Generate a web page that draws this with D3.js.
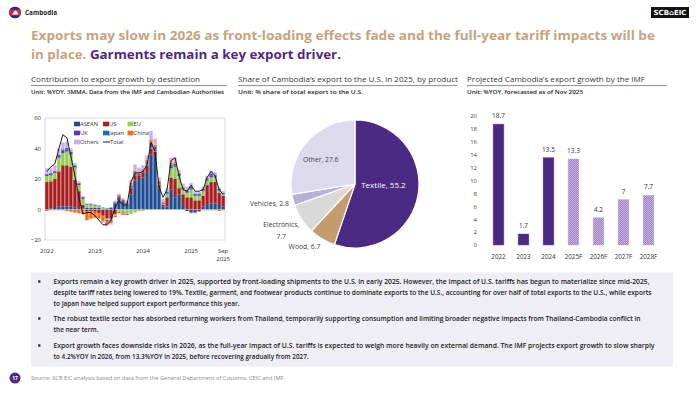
<!DOCTYPE html>
<html>
<head>
<meta charset="utf-8">
<script src="https://cdn.jsdelivr.net/npm/d3@7"></script>
<style>
  html, body { margin: 0; padding: 0; background: #fff; }
  svg { display: block; font-family: 'Open Sans', 'Noto Sans', sans-serif; }
</style>
</head>
<body>
<svg id="page" width="700" height="394"></svg>
<script>
// ---------- data ----------
// contribution to export growth, Jan 2022 - Sep 2025 (%YOY, 3MMA)
const seriesNames = ['ASEAN', 'US', 'EU', 'UK', 'Japan', 'China', 'Others'];
const asean = [-0.5, 0.5, 1, 2, 2, 2, 2, 1.5, 1, 0.5, 1, 1,
  1, 1, 0.5, 0.5, 1, 4, 6, 5, 3, 10, 19, 20,
  21, 24, 36, 35, 14, 2, 2, 13, 8, 10, 3, -1,
  -2, -2, -1, 2, 3, 4, 4, 3, 2];
const us = [18, 18, 19, 23, 27, 27, 26, 18, 11, 2.5, -1, -1,
  -1.5, -2.5, -4, -6, -6, -3, 2, 1, 1, 4, 3, 2,
  3, 5, 4, 3, 2, 1, 6, 8, 12, 4, 7, 8,
  8, 6, 6, 7, 13, 14, 14, 8, 7];
const eu = [4, 4, 4, 9, 8, 9, 8, 8, 4, 4, 2, 2,
  1.5, 1, 0.5, -1, -1, -1, -1.5, -2, -3, -3, -2, -1,
  -1, 0.5, 0.5, 0.5, 0.5, 0.5, 2, 6, 8, 8, 3, 3,
  5, 3, 3, 3, 3, 3, 3, 1, 1];
const uk = [1, 1, 1, 1, 1.5, 1.5, 1, 1, 1, 1, 0.3, 0.3,
  0.3, 0.2, -0.5, -0.5, -0.5, 0.3, 0.3, -0.5, -0.5, 0.5, 0.5, 0.5,
  0.5, 0.5, 1, 1, 0.5, 0.5, 0.5, 1, 1, 0.5, 0.5, 0.5,
  0.5, 0.5, 0.5, 0.5, 0.5, 1, 0.5, 0.5, 0.5];
const japan = [0.5, 0.5, 0.5, 1, 1, 1, 1, 0.5, 0.5, 0.3, 0.3, 0.3,
  0.3, 0.3, 0.3, 0.3, 0.3, 0.5, 1, 0.5, 0.5, 1, 1, 1,
  1, 1, 2, 1.5, 1, 0.5, 1, 1.5, 1, 1, 1, 1,
  1.5, 1, 1, 1, 1, 1.5, 1, 1, 0.5];
const china = [-0.5, -0.5, -0.5, -0.5, -0.5, -1, -1.5, -2, -2.5, -3, -6, -5,
  -4, -3.5, -3, -2, -1.5, -1, -1, -1, 0.5, 2, 2, 1,
  1, 1.5, 2, 1.5, 1, 0.5, 0.5, 1, 1, 0.5, 0.5, 0.5,
  -0.5, -0.5, -0.5, -0.5, -0.5, -0.5, -0.5, -1, -0.5];
const others = [3.5, 3, 3.5, 4, 4.5, 4, 2, 1.5, 1, 0.5, 0.5, 0.5,
  0.5, 0.5, -1, -1.5, -1, 1, 1, 1, 1, 2, 4, 3,
  2.5, 3, 6, 4, 2, 2, 2, 3.5, 3, 2, 2, 2,
  2.5, 1.5, 1, 1.5, 1.5, 2, 2, 1, 1];
const total = [25, 28, 30, 40, 49, 47, 35, 22, 8, -3, -2, -2,
  -4, -7, -10, -10, -7, 1, 6, 3, 3, 18, 24, 24,
  25, 29, 44, 38, 15, 8, 13, 32, 34, 22, 13, 12,
  16, 12, 12, 13, 21, 25, 22, 13, 10];
const leftTicks = [-20, 0, 20, 40, 60];
const yearTickIdx = [0, 12, 24, 36, 44];
const yearTickLabels = [['2022'], ['2023'], ['2024'], ['2025'], ['Sep', '2025']];

// share of export to the U.S. in 2025 by product
const pieProducts = ['Textile', 'Wood', 'Electronics', 'Vehicles', 'Other'];
const pieShares = [55.2, 6.7, 7.7, 2.8, 27.6];

// IMF projection
const imfYears = ['2022', '2023', '2024', '2025F', '2026F', '2027F', '2028F'];
const imfGrowth = [18.7, 1.7, 13.5, 13.3, 4.2, 7, 7.7];
const imfForecast = [false, false, false, true, true, true, true];
const rightTicks = [0, 2, 4, 6, 8, 10, 12, 14, 16, 18, 20];

const bullets = [
  ['Exports remain a key growth driver in 2025, supported by front-loading shipments to the U.S. in early 2025. However, the impact of U.S. tariffs has begun to materialize since mid-2025,',
   'despite tariff rates being lowered to 19%. Textile, garment, and footwear products continue to dominate exports to the U.S., accounting for over half of total exports to the U.S., while exports',
   'to Japan have helped support export performance this year.'],
  ['The robust textile sector has absorbed returning workers from Thailand, temporarily supporting consumption and limiting broader negative impacts from Thailand-Cambodia conflict in',
   'the near term.'],
  ['Export growth faces downside risks in 2026, as the full-year impact of U.S. tariffs is expected to weigh more heavily on external demand. The IMF projects export growth to slow sharply',
   'to 4.2%YOY in 2026, from 13.3%YOY in 2025, before recovering gradually from 2027.']
];

// ---------- styles ----------
const TAN = '#C9A27D';
const PURPLE = '#4B2A84';
const seriesColor = {
  ASEAN: '#1E4F96', US: '#A81F22', EU: '#92CF52', UK: '#7030A0',
  Japan: '#0F72C2', China: '#FF6A10', Others: '#D2ACE6'
};
const pieColor = {
  Textile: PURPLE, Wood: '#C59C6E', Electronics: '#D9D9D9', Vehicles: '#B5B1DA', Other: '#DEDAEE'
};
// rendered width of each bullet line, matched to the reference layout
const bulletLineWidths = [[596, 598, 186], [587, 45], [601, 255]];

const svg = d3.select('#page');
const defs = svg.append('defs');

// ---------- header ----------
defs.append('clipPath').attr('id', 'flagClip')
  .append('circle').attr('cx', 15).attr('cy', 12.5).attr('r', 6);
const flag = svg.append('g').attr('clip-path', 'url(#flagClip)');
flag.append('rect').attr('x', 9).attr('y', 6.5).attr('width', 12).attr('height', 12).attr('fill', '#1C2C8C');
flag.append('rect').attr('x', 9).attr('y', 9.5).attr('width', 12).attr('height', 6).attr('fill', '#D7263D');
flag.append('path')
  .attr('d', 'M11.6 14.6h6.8v-0.9h-0.7v-1.2h-0.5v-0.9l-0.5-0.9-0.5 0.9v-0.4l-0.7-1-0.7 1v0.4l-0.5-0.9-0.5 0.9v0.9h-0.5v1.2h-0.7z')
  .attr('fill', '#fff');

svg.append('text').attr('x', 25).attr('y', 15).attr('font-size', 7).attr('font-weight', 700)
  .attr('fill', '#222').attr('textLength', 32).attr('lengthAdjust', 'spacingAndGlyphs').text('Cambodia');

svg.append('rect').attr('x', 651).attr('y', 7).attr('width', 38).attr('height', 11).attr('fill', '#111');
svg.append('text').attr('x', 670).attr('y', 15.4).attr('text-anchor', 'middle')
  .attr('font-family', 'DejaVu Sans').attr('font-size', 7).attr('font-weight', 700).attr('fill', '#fff')
  .attr('textLength', 33).attr('lengthAdjust', 'spacingAndGlyphs').text('SCB⌂EIC');

svg.append('text').attr('x', 31).attr('y', 39.5).attr('font-size', 12).attr('font-weight', 700)
  .attr('fill', TAN).attr('textLength', 624).attr('lengthAdjust', 'spacingAndGlyphs')
  .text('Exports may slow in 2026 as front-loading effects fade and the full-year tariff impacts will be');
const t2 = svg.append('text').attr('x', 31).attr('y', 58.5).attr('font-size', 12).attr('font-weight', 700)
  .attr('textLength', 310).attr('lengthAdjust', 'spacingAndGlyphs');
t2.append('tspan').attr('fill', TAN).text('in place. ');
t2.append('tspan').attr('fill', PURPLE).text('Garments remain a key export driver.');

// ---------- section headings ----------
const sections = [
  { x: 31, w: 169, lineEnd: 227, title: 'Contribution to export growth by destination',
    unit: 'Unit: %YOY, 3MMA, Data from the IMF and Cambodian Authorities', uw: 193 },
  { x: 238, w: 220, lineEnd: 457, title: 'Share of Cambodia\u2019s export to the U.S. in 2025, by product',
    unit: 'Unit: % share of total export to the U.S.', uw: 125 },
  { x: 467, w: 178, lineEnd: 667, title: 'Projected Cambodia\u2019s export growth by the IMF',
    unit: 'Unit: %YOY, forecasted as of Nov 2025', uw: 116 }
];
sections.forEach((s) => {
  svg.append('text').attr('x', s.x).attr('y', 82.3).attr('font-size', 7.5).attr('fill', '#3a3a3a')
    .attr('textLength', s.w).attr('lengthAdjust', 'spacingAndGlyphs').text(s.title);
  svg.append('line').attr('x1', s.x).attr('x2', s.lineEnd).attr('y1', 85.6).attr('y2', 85.6)
    .attr('stroke', '#7f7f7f').attr('stroke-width', 0.9);
  svg.append('text').attr('x', s.x).attr('y', 94.2).attr('font-size', 6).attr('font-weight', 600)
    .attr('fill', '#222').attr('textLength', s.uw).attr('lengthAdjust', 'spacingAndGlyphs').text(s.unit);
});

// ---------- left: stacked bars ----------
const months = [];
for (let i = 0; i < total.length; i++) {
  const yr = 2022 + Math.floor(i / 12);
  months.push(`${yr}-${String((i % 12) + 1).padStart(2, '0')}`);
}
const rows = months.map((m, i) => ({
  month: m, ASEAN: asean[i], US: us[i], EU: eu[i], UK: uk[i],
  Japan: japan[i], China: china[i], Others: others[i], Total: total[i]
}));

const xL = d3.scaleBand().domain(months).range([45, 225]).paddingInner(0.16).paddingOuter(0.05);
const yL = d3.scaleLinear().domain([-20, 60]).range([240, 118]);

svg.append('rect').attr('x', 45).attr('y', 118).attr('width', 180).attr('height', 122)
  .attr('fill', 'none').attr('stroke', '#d0d0d0').attr('stroke-width', 0.8);

const stacked = d3.stack().keys(seriesNames).offset(d3.stackOffsetDiverging)(rows);
svg.append('g').selectAll('g')
  .data(stacked)
  .enter()
  .append('g')
  .attr('fill', d => seriesColor[d.key])
  .selectAll('rect')
  .data(d => d)
  .enter()
  .append('rect')
  .attr('x', d => xL(d.data.month))
  .attr('width', xL.bandwidth())
  .attr('y', d => yL(Math.max(d[0], d[1])))
  .attr('height', d => Math.abs(yL(d[0]) - yL(d[1])));

svg.append('line').attr('x1', 45).attr('x2', 225).attr('y1', yL(0)).attr('y2', yL(0))
  .attr('stroke', '#bfbfbf').attr('stroke-width', 0.6);

const totalLine = d3.line()
  .x(d => xL(d.month) + xL.bandwidth() / 2)
  .y(d => yL(d.Total));
svg.append('path').datum(rows).attr('d', totalLine)
  .attr('fill', 'none').attr('stroke', '#1a1a1a').attr('stroke-width', 1);

const yAxisL = svg.append('g').attr('transform', 'translate(45,0)')
  .call(d3.axisLeft(yL).tickValues(leftTicks).tickSize(0).tickPadding(4));
yAxisL.select('.domain').remove();
yAxisL.selectAll('text').attr('font-size', 6).attr('fill', '#333').attr('font-family', 'Open Sans');

yearTickIdx.forEach((idx, k) => {
  const cx = xL(months[idx]) + xL.bandwidth() / 2;
  yearTickLabels[k].forEach((lbl, j) => {
    svg.append('text').attr('x', cx).attr('y', 253 + j * 7.5).attr('text-anchor', 'middle')
      .attr('font-size', 6).attr('fill', '#333').text(lbl);
  });
});

// legend
const legendItems = [
  { key: 'ASEAN', col: 0, row: 0 }, { key: 'US', col: 1, row: 0 }, { key: 'EU', col: 2, row: 0 },
  { key: 'UK', col: 0, row: 1 }, { key: 'Japan', col: 1, row: 1 }, { key: 'China', col: 2, row: 1 },
  { key: 'Others', col: 0, row: 2 }, { key: 'Total', col: 1, row: 2 }
];
const legendCols = [74, 103, 127.5];
const legend = svg.append('g');
legendItems.forEach((it) => {
  const lx = legendCols[it.col];
  const ly = 124 + it.row * 9;
  if (it.key === 'Total') {
    legend.append('line').attr('x1', lx).attr('x2', lx + 7).attr('y1', ly).attr('y2', ly)
      .attr('stroke', '#1a1a1a').attr('stroke-width', 1);
  } else {
    legend.append('rect').attr('x', lx).attr('y', ly - 2.3).attr('width', 6).attr('height', 4.6)
      .attr('fill', seriesColor[it.key]);
  }
  legend.append('text').attr('x', lx + (it.key === 'Total' ? 7 : 6)).attr('y', ly + 2.1)
    .attr('font-size', 5.8).attr('fill', '#333').text(it.key);
});

// ---------- middle: pie ----------
const pieCx = 355;
const pieCy = 184;
const pieR = 64;
const pieData = d3.pie().sort(null).value(d => d.share)(
  pieProducts.map((p, i) => ({ product: p, share: pieShares[i] }))
);
const arc = d3.arc().innerRadius(0).outerRadius(pieR);
const pieG = svg.append('g').attr('transform', `translate(${pieCx},${pieCy})`);
pieG.selectAll('path')
  .data(pieData)
  .enter()
  .append('path')
  .attr('d', arc)
  .attr('fill', d => pieColor[d.data.product])
  .attr('stroke', '#fff')
  .attr('stroke-width', 1.2);

// label placement per slice: radius factor, anchor, offsets
const pieLabelStyle = {
  Textile: { rf: 0.45, anchor: 'middle', dx: 0, dy: -1, fill: '#fff', size: 8 },
  Wood: { rf: 1.12, anchor: 'end', dx: 2, dy: 3, fill: '#404040', size: 6.8 },
  Electronics: { rf: 1.1, anchor: 'middle', dx: -15, dy: 4, fill: '#404040', size: 6.8, wrap: true },
  Vehicles: { rf: 1.06, anchor: 'end', dx: -0.5, dy: 5, fill: '#404040', size: 6.8 },
  Other: { rf: 0.66, anchor: 'middle', dx: -2, dy: 5, fill: '#404040', size: 6.8 }
};
pieData.forEach((d) => {
  const st = pieLabelStyle[d.data.product];
  const c = d3.arc().innerRadius(pieR * st.rf).outerRadius(pieR * st.rf).centroid(d);
  const label = `${d.data.product}, ${d.data.share}`;
  if (st.wrap) {
    svg.append('text').attr('x', pieCx + c[0] + st.dx).attr('y', pieCy + c[1] + st.dy)
      .attr('text-anchor', st.anchor).attr('font-size', st.size).attr('fill', st.fill)
      .text(`${d.data.product},`);
    svg.append('text').attr('x', pieCx + c[0] + st.dx).attr('y', pieCy + c[1] + st.dy + 12)
      .attr('text-anchor', st.anchor).attr('font-size', st.size).attr('fill', st.fill)
      .text(d.data.share);
  } else {
    svg.append('text').attr('x', pieCx + c[0] + st.dx).attr('y', pieCy + c[1] + st.dy)
      .attr('text-anchor', st.anchor).attr('font-size', st.size).attr('fill', st.fill)
      .text(label);
  }
});

// ---------- right: IMF bars ----------
const chk = defs.append('pattern').attr('id', 'chk').attr('patternUnits', 'userSpaceOnUse')
  .attr('width', 2).attr('height', 2);
chk.append('rect').attr('width', 2).attr('height', 2).attr('fill', '#9E84C4');
chk.append('rect').attr('width', 1).attr('height', 1).attr('fill', '#C4B3DE');
chk.append('rect').attr('x', 1).attr('y', 1).attr('width', 1).attr('height', 1).attr('fill', '#C4B3DE');

const xR = d3.scaleBand().domain(imfYears).range([486, 661]).paddingInner(0.57).paddingOuter(0.285);
const yR = d3.scaleLinear().domain([0, 20]).range([245, 115.7]);
const imfRows = imfYears.map((y, i) => ({ year: y, v: imfGrowth[i], f: imfForecast[i] }));

svg.append('g').selectAll('rect')
  .data(imfRows)
  .enter()
  .append('rect')
  .attr('x', d => xR(d.year))
  .attr('width', xR.bandwidth())
  .attr('y', d => yR(d.v))
  .attr('height', d => yR(0) - yR(d.v))
  .attr('fill', d => (d.f ? 'url(#chk)' : PURPLE))
  .attr('stroke', d => (d.f ? '#B9A6D8' : '#6a52a0'))
  .attr('stroke-width', 0.5);

svg.append('g').selectAll('text')
  .data(imfRows)
  .enter()
  .append('text')
  .attr('x', d => xR(d.year) + xR.bandwidth() / 2)
  .attr('y', d => yR(d.v) - 6)
  .attr('text-anchor', 'middle')
  .attr('font-size', 6.5)
  .attr('fill', '#333')
  .text(d => d.v);

const yAxisR = svg.append('g').attr('transform', 'translate(477,0)')
  .call(d3.axisLeft(yR).tickValues(rightTicks).tickSize(0).tickPadding(0));
yAxisR.select('.domain').remove();
yAxisR.selectAll('text').attr('font-size', 6).attr('fill', '#444').attr('font-family', 'Open Sans');

const xAxisR = svg.append('g').attr('transform', 'translate(0,255)')
  .call(d3.axisBottom(xR).tickSize(0).tickPadding(0));
xAxisR.select('.domain').remove();
xAxisR.selectAll('text').attr('font-size', 6.3).attr('fill', '#333').attr('font-family', 'Open Sans');

// ---------- bullet box ----------
svg.append('rect').attr('x', 31).attr('y', 272.5).attr('width', 642).attr('height', 94)
  .attr('fill', '#EEEEF4');
const bulletTops = [284, 321, 348];
bullets.forEach((lines, b) => {
  svg.append('rect').attr('x', 38.2).attr('y', bulletTops[b] - 3.6).attr('width', 2.2).attr('height', 2.2)
    .attr('fill', '#111');
  lines.forEach((ln, j) => {
    svg.append('text').attr('x', 53.5).attr('y', bulletTops[b] + j * 10.8)
      .attr('font-size', 6.4).attr('font-weight', 600).attr('fill', '#1a1a1a')
      .attr('textLength', bulletLineWidths[b][j]).attr('lengthAdjust', 'spacingAndGlyphs')
      .text(ln);
  });
});

// ---------- footer ----------
svg.append('circle').attr('cx', 15).attr('cy', 378).attr('r', 5.5).attr('fill', PURPLE);
svg.append('text').attr('x', 15).attr('y', 380).attr('text-anchor', 'middle').attr('font-size', 5)
  .attr('font-weight', 700).attr('fill', '#fff').text('17');
svg.append('text').attr('x', 31).attr('y', 380.2).attr('font-size', 5.4).attr('fill', '#8a8a8a')
  .attr('textLength', 254).attr('lengthAdjust', 'spacingAndGlyphs')
  .text('Source: SCB EIC analysis based on data from the General Department of Customs, CEIC and IMF.');
</script>
</body>
</html>
